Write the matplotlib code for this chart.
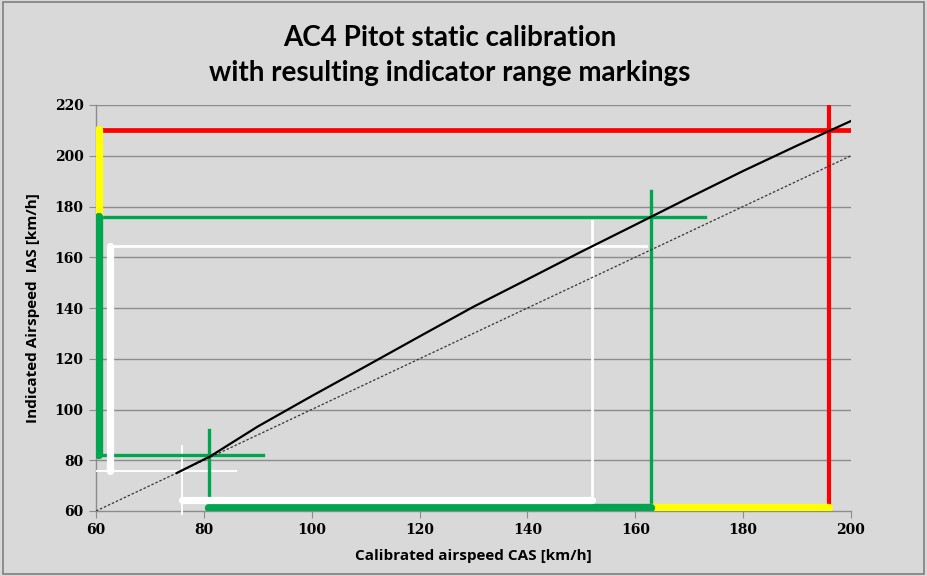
import matplotlib
matplotlib.use("Agg")
import matplotlib.pyplot as plt
from matplotlib.patches import Rectangle

# Calibration curve (CAS -> IAS)
cas = [75, 80, 81, 90, 100, 110, 120, 130, 140, 150, 160, 170, 180, 190, 200]
ias = [75, 80.3, 81.3, 93.3, 105.3, 117.0, 128.8, 140.5, 151.3, 162.2, 172.8, 183.5, 194.0, 204.0, 213.7]

# Reference 1:1 line
ref_x = [60, 200]
ref_y = [60, 200]

# Range markings (CAS, IAS)
white_low = (76, 75.8)     # start of white arc
green_low = (81, 82)       # start of green arc
white_high = (152, 164.4)  # end of white arc
green_high = (163, 176)    # end of green arc
red_line = (196, 210)      # Vne

xticks = [60, 80, 100, 120, 140, 160, 180, 200]
yticks = [60, 80, 100, 120, 140, 160, 180, 200, 220]

bg = "#d9d9d9"
green = "#00a550"
yellow = "#ffff00"
red = "#ff0000"
white = "#ffffff"

fig = plt.figure(figsize=(9.27, 5.76), dpi=100, facecolor=bg)
ax = fig.add_axes([96/927, 1-511/576, (851-96)/927, (511-105)/576])
ax.set_facecolor(bg)
ax.set_xlim(60, 200)
ax.set_ylim(60, 220)

for y in yticks[1:]:
    ax.axhline(y, color="#8c8c8c", lw=1.0, zorder=1)

xa = 60.6   # thick arcs on IAS axis
xw = 62.6
yb = 61.0   # thick arcs on CAS axis
yw = 64.2

kw_thick = dict(solid_capstyle="round", zorder=4)
# IAS axis arcs
ax.plot([xa, xa], [green_high[1], red_line[1]], color=yellow, lw=6.0, **kw_thick)
ax.plot([xa, xa], [green_low[1], green_high[1]], color=green, lw=6.0, **kw_thick)
ax.plot([xw, xw], [white_low[1], white_high[1]], color=white, lw=5.2, **kw_thick)
# CAS axis arcs
ax.plot([green_high[0], red_line[0]], [yb, yb], color=yellow, lw=6.0, **kw_thick)
ax.plot([green_low[0], green_high[0]], [yb, yb], color=green, lw=6.0, **kw_thick)
ax.plot([white_low[0], white_high[0]], [yw, yw], color=white, lw=5.2, **kw_thick)

# Thin marker crosses
ext = 10
ax.plot([60, white_low[0] + ext], [white_low[1], white_low[1]], color=white, lw=1.4, zorder=3)
ax.plot([white_low[0], white_low[0]], [59, white_low[1] + ext], color=white, lw=1.4, zorder=3, clip_on=False)
ax.plot([xa, green_low[0] + ext], [green_low[1], green_low[1]], color=green, lw=2.4, zorder=3)
ax.plot([green_low[0], green_low[0]], [yb, green_low[1] + ext], color=green, lw=2.4, zorder=3)
ax.plot([xw, white_high[0] + ext], [white_high[1], white_high[1]], color=white, lw=2.0, zorder=3)
ax.plot([white_high[0], white_high[0]], [yw, white_high[1] + ext], color=white, lw=2.0, zorder=3)
ax.plot([xa, green_high[0] + ext], [green_high[1], green_high[1]], color=green, lw=2.4, zorder=3)
ax.plot([green_high[0], green_high[0]], [yb, green_high[1] + ext], color=green, lw=2.4, zorder=3)
ax.plot([60, 200], [red_line[1], red_line[1]], color=red, lw=3.4, zorder=3)
ax.plot([red_line[0], red_line[0]], [62, 220], color=red, lw=3.0, zorder=3)

# Curves
ax.plot(ref_x, ref_y, color="#333333", lw=0.9, ls=(0, (2, 1.5)), zorder=5)
ax.plot(cas, ias, color="black", lw=1.6, zorder=6)

for s in ["top", "right"]:
    ax.spines[s].set_visible(False)
for s in ["left", "bottom"]:
    ax.spines[s].set_color("#8c8c8c")
    ax.spines[s].set_linewidth(1.0)

ax.set_xticks(xticks)
ax.set_yticks(yticks)
tickfont = dict(family="DejaVu Serif", weight="bold", size=10)
ax.set_xticklabels([str(v) for v in xticks], **tickfont)
ax.set_yticklabels([str(v) for v in yticks], **tickfont)
ax.tick_params(axis="both", direction="out", length=5, color="#8c8c8c", pad=4)

ax.set_xlabel("Calibrated airspeed CAS [km/h]", family="Open Sans", weight="bold", size=11, labelpad=8)
ax.set_ylabel("Indicated Airspeed  IAS [km/h]", family="Open Sans", weight="bold", size=11, labelpad=10)

fig.text(450/927, 1-38/576, "AC4 Pitot static calibration", ha="center", va="center",
         family="Lato", weight="bold", size=20)
fig.text(450/927, 1-73/576, "with resulting indicator range markings", ha="center", va="center",
         family="Lato", weight="bold", size=20)

fig.patches.append(Rectangle((0.003, 0.003), 0.994, 0.994, transform=fig.transFigure,
                             fill=False, edgecolor="#7f7f7f", lw=1.2))

fig.savefig("out.png", dpi=100, facecolor=bg)
